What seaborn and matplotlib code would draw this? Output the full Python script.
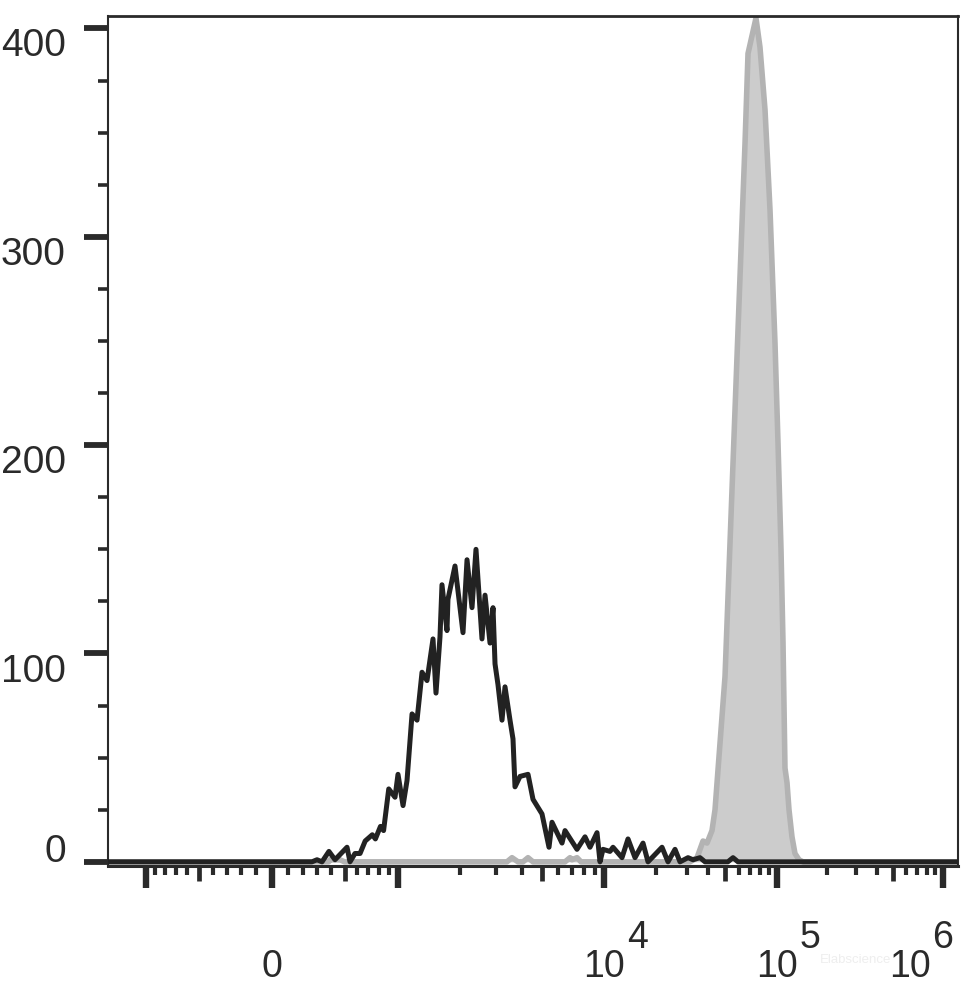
import numpy as np
import matplotlib
matplotlib.use("Agg")
import matplotlib.pyplot as plt
import seaborn as sns

# histogram outlines (intensity, events)
sample_x = [-1600, 262, 297, 332, 382, 427, 520, 544, 585, 628, 673, 738, 767, 816, 847, 900, 967,
            1000, 1058, 1106, 1170, 1237, 1308, 1383, 1479, 1529, 1599, 1635, 1729, 1748, 1891, 2068,
            2163, 2287, 2391, 2557, 2645, 2797, 2892, 2958, 3058, 3198, 3307, 3497, 3616, 3698, 3911,
            4277, 4522, 5000, 5408, 5592, 6254, 6467, 7394, 8087, 8551, 9248, 9563, 9888, 10832,
            11272, 12706, 13762, 15110, 16806, 17962, 21640, 23440, 25730, 27500, 30590, 32700,
            35880, 38360, 52000, 55680, 59500, 1300000]
sample_y = [0, 0, 1, 0, 5, 1, 7, 0, 4, 4, 10, 13, 11, 17, 15, 35, 31,
            42, 27, 39, 71, 68, 91, 87, 107, 81, 108, 133, 111, 126, 142, 110,
            145, 122, 150, 107, 128, 105, 122, 95, 85, 68, 84, 68, 59, 36, 41,
            42, 30, 23, 7, 19, 9, 15, 6, 12, 7, 14, 0, 6, 5,
            7, 2, 11, 2, 9, 0, 7, 0, 6, 0, 2, 1,
            2, 0, 0, 2, 0, 0]

control_x = [-1600, 380, 390, 465, 500, 3380, 3576, 3824, 4044, 4277, 4522, 6467, 6839, 6994, 7394,
             7732, 31410, 34490, 37360, 39400, 42100, 43820, 46830, 50060, 53490, 57180, 61120,
             65330, 67980, 75590, 79730, 85240, 91100, 97360, 101400, 105700, 108700, 110200,
             111700, 114900, 118100, 123100, 128300, 135700, 143400, 1300000]
control_y = [0, 0, 1, 1, 0, 0, 2, 0, 0, 2, 0, 0, 2, 1, 2,
             0, 0, 2, 10, 9, 15, 25, 57, 89, 153, 217, 281,
             345, 388, 405, 391, 361, 313, 249, 201, 150, 105, 75,
             45, 38, 25, 12, 4, 1, 0, 0]

y_major = [0, 100, 200, 300, 400]
x_major = [-1000, 0, 1000, 1e4, 1e5, 1e6]
x_medium = [-500, 500, 5e3, 5e4, 5e5]
x_minor = ([-m * 100 for m in (1, 2, 3, 4, 6, 7, 8, 9)] + [m * 100 for m in (1, 2, 3, 4, 6, 7, 8, 9)]
           + [m * 10 ** e for e in (3, 4, 5) for m in (2, 3, 4, 6, 7, 8, 9)])
x_label_vals = [0, 1e4, 1e5, 1e6]
x_label_base = ["0", "10", "10", "10"]
x_label_exp = ["", "4", "5", "6"]

# biexponential-like display scale
C = 700.0
K = 126.0 / np.arcsinh(1000.0 / C)
LOG_D = [3, 4, 5, 6, 7]
LOG_P = [126, 332, 505, 671, 837]


def fwd(x):
    x = np.asarray(x, float)
    a = np.abs(x)
    lin = K * np.arcsinh(a / C)
    with np.errstate(divide="ignore", invalid="ignore"):
        lg = np.interp(np.log10(np.maximum(a, 1000.0)), LOG_D, LOG_P)
    return np.sign(x) * np.where(a <= 1000, lin, lg)


def inv(p):
    p = np.asarray(p, float)
    a = np.abs(p)
    lin = C * np.sinh(np.minimum(a, 126.0) / K)
    lg = 10 ** np.interp(np.maximum(a, 126.0), LOG_P, LOG_D)
    return np.sign(p) * np.where(a <= 126, lin, lg)


sns.set_theme(style="white")
plt.rcParams["font.family"] = ["Liberation Sans", "DejaVu Sans"]
ink = "#2a2a2a"

fig = plt.figure(figsize=(9.77, 9.92), dpi=100)
ax = fig.add_axes([108 / 977, 1 - 866 / 992, 850 / 977, 850 / 992])
ax.set_xscale("function", functions=(fwd, inv))

ax.fill_between(control_x, control_y, color="#cccccc", lw=0, zorder=1)
sns.lineplot(x=control_x, y=control_y, ax=ax, color="#b3b3b3", lw=4.0,
             estimator=None, sort=False, zorder=2)
sns.lineplot(x=sample_x, y=sample_y, ax=ax, color="#222222", lw=3.6,
             estimator=None, sort=False, zorder=3)

ax.set_xlim(-1529, 1.231e6)
ax.set_ylim(-2, 406)
ax.set_xlabel("")
ax.set_ylabel("")

for s in ax.spines.values():
    s.set_color(ink)
    s.set_linewidth(1.5)
ax.spines["top"].set_linewidth(2.0)
ax.spines["bottom"].set_linewidth(2.2)

# y axis
ax.set_yticks(y_major)
ax.set_yticklabels([str(v) for v in y_major])
ax.set_yticks(np.arange(0, 401, 25), minor=True)
ax.tick_params(axis="y", which="major", direction="out", length=17, width=4.2,
               color=ink, labelcolor=ink, labelsize=28, pad=13.5, left=True)
ax.tick_params(axis="y", which="minor", direction="out", length=7, width=2.6,
               color=ink, left=True)
for lab in ax.get_yticklabels():
    lab.set_verticalalignment("baseline" if lab.get_text() == "0" else "top")

# x axis: three tick tiers
x_ticks = sorted(x_major + x_medium)
ax.set_xticks(x_ticks)
ax.set_xticklabels([""] * len(x_ticks))
ax.set_xticks(x_minor, minor=True)
ax.tick_params(axis="x", which="major", direction="out", length=16, width=4.6,
               color=ink, bottom=True, pad=0)
ax.tick_params(axis="x", which="minor", direction="out", length=6.5, width=3.0,
               color=ink, bottom=True)
for v, t in zip(x_ticks, ax.xaxis.get_major_ticks(len(x_ticks))):
    if v in x_medium:
        t.tick1line.set_markersize(11)
        t.tick1line.set_markeredgewidth(3.4)

for v, base, ex in zip(x_label_vals, x_label_base, x_label_exp):
    dx = -24 if v == 1e6 else 0
    ax.annotate(base, xy=(v, 0), xycoords=("data", "axes fraction"), xytext=(dx, -73),
                textcoords="offset points", ha="center", va="center", fontsize=27,
                color=ink, annotation_clip=False)
    if ex:
        ax.annotate(ex, xy=(v, 0), xycoords=("data", "axes fraction"), xytext=(dx + 16.5, -52),
                    textcoords="offset points", ha="left", va="center", fontsize=27,
                    color=ink, annotation_clip=False)

fig.text(856 / 977, 1 - 960 / 992, "Elabscience", color="#eeeeee", fontsize=9.5,
         ha="center", va="center", zorder=0)

fig.savefig("out.png", dpi=100)
